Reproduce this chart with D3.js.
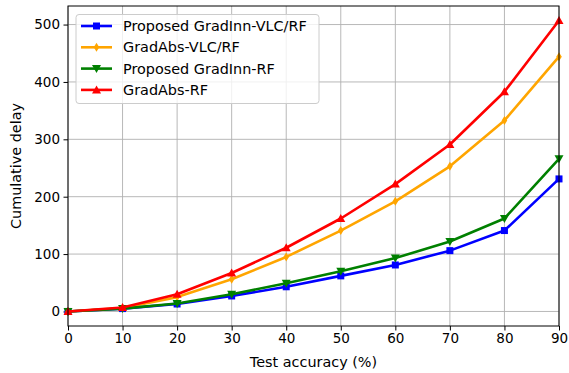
<!DOCTYPE html>
<html><head><meta charset="utf-8">
<script src="https://cdn.jsdelivr.net/npm/d3@7"></script>
<style>body{margin:0;background:#fff}svg{display:block;font-family:"DejaVu Sans",sans-serif}</style>
</head><body><svg id="c" width="569" height="373"></svg>
<script>
const accuracy = [0,10,20,30,40,50,60,70,80,90];
const gradInnVLC = [0,5,13,27,43,62,81,106,141,231];
const gradAbsVLC = [0,6,25,56,95,141,192,253,333,444];
const gradInnRF = [0,5,14,30,49,70,93,122,162,266];
const gradAbsRF = [0,7,30,67,111,162,222,291,383,507];
const seriesNames = ["Proposed GradInn-VLC/RF","GradAbs-VLC/RF","Proposed GradInn-RF","GradAbs-RF"];
const xTicks = [0,10,20,30,40,50,60,70,80,90];
const yTicks = [0,100,200,300,400,500];

const series = [
  {name:seriesNames[0], values:gradInnVLC, color:"#0000ff", marker:"square"},
  {name:seriesNames[1], values:gradAbsVLC, color:"#ffa500", marker:"diamond"},
  {name:seriesNames[2], values:gradInnRF, color:"#008000", marker:"tdown"},
  {name:seriesNames[3], values:gradAbsRF, color:"#ff0000", marker:"tup"}
];

const L=68,R=559,T=6,B=326;
const svg=d3.select("#c");
const x=d3.scaleLinear().domain([0,90]).range([L,R]);
const ymax=d3.max(series,s=>d3.max(s.values));
const pad=ymax*0.05;
const y=d3.scaleLinear().domain([-pad,ymax+pad]).range([B,T]);

// grid
svg.append("g").selectAll("line").data(xTicks).join("line")
  .attr("x1",d=>x(d)).attr("x2",d=>x(d)).attr("y1",T).attr("y2",B)
  .attr("stroke","#b0b0b0").attr("stroke-width",0.9);
svg.append("g").selectAll("line").data(yTicks).join("line")
  .attr("x1",L).attr("x2",R).attr("y1",d=>y(d)).attr("y2",d=>y(d))
  .attr("stroke","#b0b0b0").attr("stroke-width",0.9);

// axes
const xa=svg.append("g").attr("transform",`translate(0,${B})`)
  .call(d3.axisBottom(x).tickValues(xTicks).tickSize(4.5).tickPadding(3).tickSizeOuter(0));
const ya=svg.append("g").attr("transform",`translate(${L},0)`)
  .call(d3.axisLeft(y).tickValues(yTicks).tickSize(4.5).tickPadding(3.5).tickSizeOuter(0));
[xa,ya].forEach(a=>{a.select(".domain").remove();a.selectAll("text").attr("font-size",13.5).attr("fill","#000").attr("font-family","DejaVu Sans");a.selectAll("line").attr("stroke","#000").attr("stroke-width",1);});

// lines
const line=d3.line().x((d,i)=>x(accuracy[i])).y(d=>y(d));
function drawMarker(g,m,color,cx,cy){
  if(m==="square"){g.append("rect").attr("x",cx-3.5).attr("y",cy-3.5).attr("width",7).attr("height",7).attr("fill",color);}
  else if(m==="diamond"){g.append("path").attr("d",`M${cx},${cy-4.5}L${cx+2.8},${cy}L${cx},${cy+4.5}L${cx-2.8},${cy}Z`).attr("fill",color);}
  else if(m==="tdown"){g.append("path").attr("d",`M${cx-4.5},${cy-3.5}L${cx+4.5},${cy-3.5}L${cx},${cy+4.5}Z`).attr("fill",color);}
  else {g.append("path").attr("d",`M${cx-4.5},${cy+3.5}L${cx+4.5},${cy+3.5}L${cx},${cy-4.5}Z`).attr("fill",color);}
}
const plot=svg.append("g");
series.forEach(s=>{
  const g=plot.append("g");
  g.append("path").datum(s.values).attr("d",line).attr("fill","none").attr("stroke",s.color).attr("stroke-width",2.6).attr("stroke-linejoin","round");
  s.values.forEach((v,i)=>drawMarker(g,s.marker,s.color,x(accuracy[i]),y(v)));
});

// frame
svg.append("rect").attr("x",L).attr("y",T).attr("width",R-L).attr("height",B-T).attr("fill","none").attr("stroke","#000").attr("stroke-width",1);

// legend
const lg=svg.append("g");
lg.append("rect").attr("x",76).attr("y",14.5).attr("width",243).attr("height",89).attr("rx",3)
  .attr("fill","#fff").attr("fill-opacity",0.8).attr("stroke","#ccc").attr("stroke-width",1);
series.forEach((s,i)=>{
  const yy=26+i*21.3;
  lg.append("line").attr("x1",81).attr("x2",112).attr("y1",yy).attr("y2",yy).attr("stroke",s.color).attr("stroke-width",2.6);
  drawMarker(lg,s.marker,s.color,96.5,yy);
  lg.append("text").attr("x",123).attr("y",yy).attr("dy","0.35em").attr("font-size",14.4).text(s.name);
});

// labels
svg.append("text").attr("x",(L+R)/2).attr("y",367).attr("text-anchor","middle").attr("font-size",14.4).text("Test accuracy (%)");
svg.append("text").attr("transform",`translate(21,${(T+B)/2}) rotate(-90)`).attr("text-anchor","middle").attr("font-size",14.4).text("Cumulative delay");
</script></body></html>
